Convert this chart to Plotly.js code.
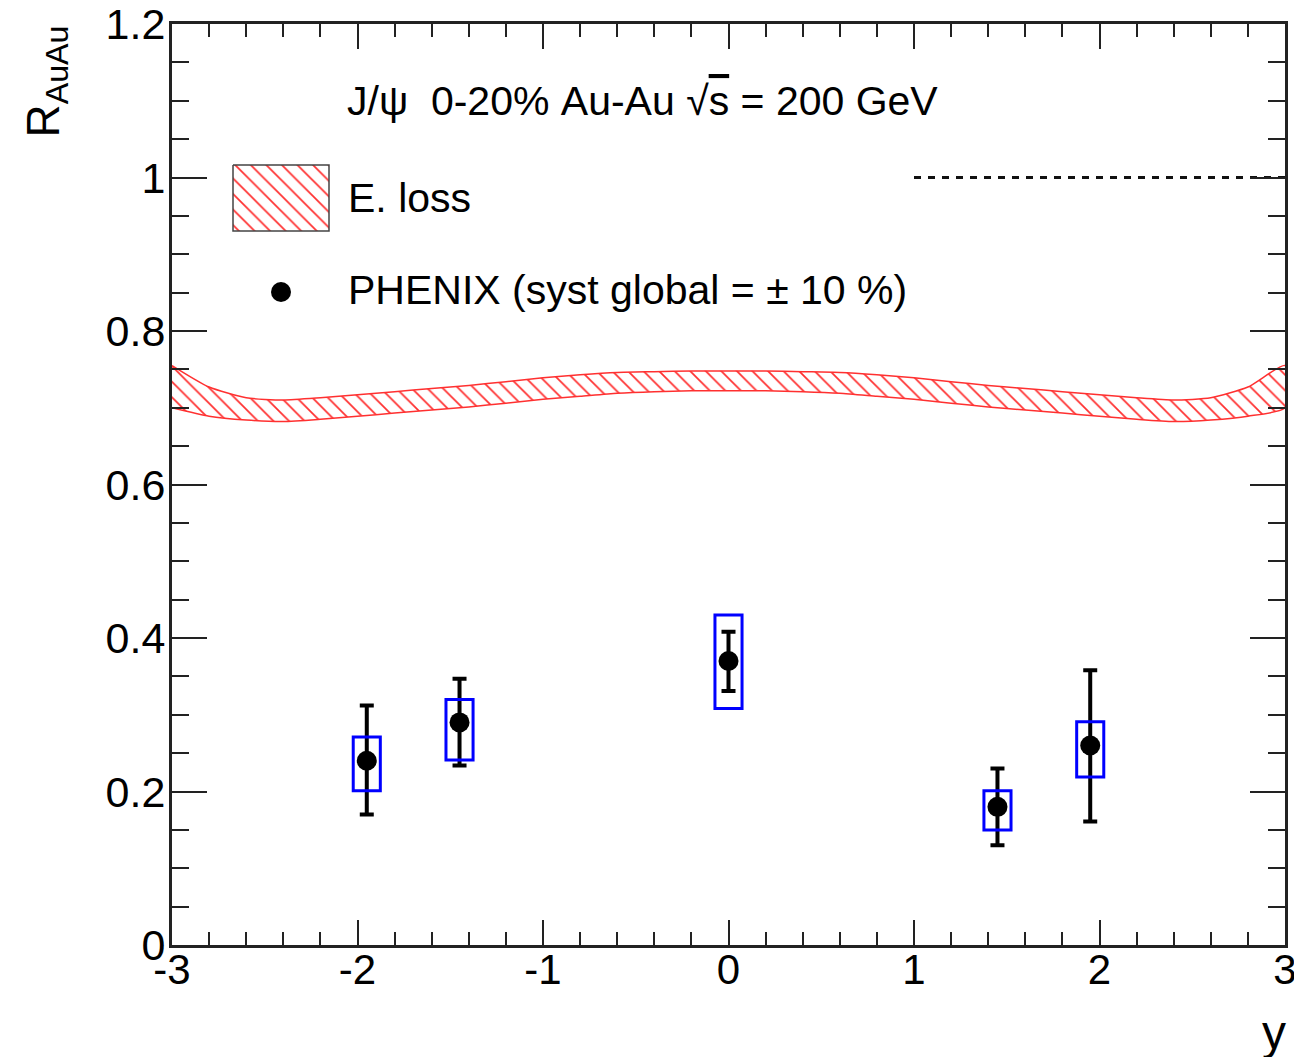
<!DOCTYPE html>
<html>
<head>
<meta charset="utf-8">
<script src="https://cdn.plot.ly/plotly-3.0.1.min.js"></script>
<style>
html,body{margin:0;padding:0;background:#fff;}
#chart{width:1294px;height:1057px;}
</style>
</head>
<body>
<div id="chart"></div>
<script>
// ---- Data ----
// E. loss band (rapidity y, upper and lower edge of R_AuAu)
const bandY = [-3.0, -2.8, -2.6, -2.4, -2.2, -2.0, -1.8, -1.6, -1.4, -1.2, -1.0, -0.8, -0.6, -0.4, -0.2, 0.0,
               0.2, 0.4, 0.6, 0.8, 1.0, 1.2, 1.4, 1.6, 1.8, 2.0, 2.2, 2.4, 2.6, 2.8, 3.0];
const bandUpper = [0.755, 0.727, 0.713, 0.710, 0.713, 0.717, 0.721, 0.725, 0.729, 0.734, 0.739, 0.743, 0.746, 0.747, 0.748, 0.748,
                   0.748, 0.747, 0.746, 0.743, 0.739, 0.734, 0.729, 0.725, 0.721, 0.717, 0.713, 0.710, 0.713, 0.727, 0.755];
const bandLower = [0.700, 0.689, 0.684, 0.682, 0.685, 0.689, 0.693, 0.697, 0.701, 0.706, 0.711, 0.715, 0.719, 0.721, 0.722, 0.722,
                   0.722, 0.721, 0.719, 0.715, 0.711, 0.706, 0.701, 0.697, 0.693, 0.689, 0.685, 0.682, 0.684, 0.689, 0.700];

// PHENIX points
const phenixY   = [-1.95, -1.45, 0.0, 1.45, 1.95];
const phenixRaa = [0.24, 0.29, 0.37, 0.18, 0.26];
const statHigh  = [0.312, 0.347, 0.408, 0.230, 0.358];
const statLow   = [0.170, 0.234, 0.331, 0.130, 0.161];
const systHigh  = [0.271, 0.320, 0.430, 0.201, 0.291];
const systLow   = [0.201, 0.241, 0.308, 0.150, 0.219];

// reference line R=1
const refLineY = [1.0, 3.0];
const refLineR = [1.0, 1.0];

// tick labels
const xTickVals = [-3, -2, -1, 0, 1, 2, 3];
const xTickText = ['-3', '-2', '-1', '0', '1', '2', '3'];

// ---- Layout helpers (pixel geometry) ----
const W = 1294, H = 1057;
const L = 172, R = 1285, T = 24, B = 945;
const px = p => (p - L) / (R - L);
const py = p => (B - p) / (B - T);
const FONT = 'Liberation Sans, Arial, Helvetica, sans-serif';
const boxHalfWidth = 0.073;

const traces = [];

// band polygon
traces.push({
  x: bandY.concat(bandY.slice().reverse()),
  y: bandUpper.concat(bandLower.slice().reverse()),
  type: 'scatter', mode: 'lines',
  fill: 'toself',
  fillcolor: 'rgba(0,0,0,0)',
  fillpattern: {shape: '\\', fgcolor: '#ff3030', bgcolor: 'rgba(255,255,255,0)', size: 11, solidity: 0.16},
  line: {color: '#ff3030', width: 1.5, shape: 'spline', smoothing: 0.6},
  hoverinfo: 'skip', showlegend: false
});

// dashed reference line
traces.push({
  x: refLineY, y: refLineR, type: 'scatter', mode: 'lines',
  line: {color: '#111', width: 3, dash: '7px,7px'},
  hoverinfo: 'skip', showlegend: false
});

// PHENIX points with stat errors
traces.push({
  x: phenixY, y: phenixRaa, type: 'scatter', mode: 'markers',
  marker: {color: '#000', size: 20},
  error_y: {
    type: 'data', symmetric: false,
    array: statHigh.map((v, i) => v - phenixRaa[i]),
    arrayminus: phenixRaa.map((v, i) => v - statLow[i]),
    color: '#000', thickness: 4, width: 7
  },
  showlegend: false
});

// legend swatch & marker on an overlay pixel axis
traces.push({
  x: [233, 329, 329, 233, 233], y: [165, 165, 231, 231, 165],
  xaxis: 'x2', yaxis: 'y2', type: 'scatter', mode: 'lines',
  fill: 'toself', fillcolor: 'rgba(0,0,0,0)',
  fillpattern: {shape: '\\', fgcolor: '#ff3030', bgcolor: 'rgba(255,255,255,0)', size: 11, solidity: 0.16},
  line: {color: '#444', width: 1.5},
  hoverinfo: 'skip', showlegend: false
});
traces.push({
  x: [281], y: [292], xaxis: 'x2', yaxis: 'y2', type: 'scatter', mode: 'markers',
  marker: {color: '#000', size: 20}, hoverinfo: 'skip', showlegend: false
});

// systematic boxes as shapes
const shapes = phenixY.map((x, i) => ({
  type: 'rect', xref: 'x', yref: 'y',
  x0: x - boxHalfWidth, x1: x + boxHalfWidth,
  y0: systLow[i], y1: systHigh[i],
  line: {color: '#0000ff', width: 3}, fillcolor: 'rgba(0,0,0,0)', layer: 'above'
}));

const annotations = [
  {xref: 'paper', yref: 'paper', x: px(345), y: py(101), xanchor: 'left', yanchor: 'middle',
   text: 'J/ψ  0-20% Au-Au √<span style="text-decoration:overline">s</span> = 200 GeV', showarrow: false,
   font: {family: FONT, size: 41, color: '#000'}},
  {xref: 'paper', yref: 'paper', x: px(346), y: py(198), xanchor: 'left', yanchor: 'middle',
   text: 'E. loss', showarrow: false, font: {family: FONT, size: 41, color: '#000'}},
  {xref: 'paper', yref: 'paper', x: px(346), y: py(290), xanchor: 'left', yanchor: 'middle',
   text: 'PHENIX (syst global = ± 10 %)', showarrow: false, font: {family: FONT, size: 41, color: '#000'}},
  {xref: 'paper', yref: 'paper', x: px(14), y: py(24), xanchor: 'left', yanchor: 'top',
   textangle: -90, text: 'R<sub>AuAu</sub>', showarrow: false, font: {family: FONT, size: 46, color: '#000'}},
  {xref: 'paper', yref: 'paper', x: px(1288), y: py(1061), xanchor: 'right', yanchor: 'bottom',
   text: 'y', showarrow: false, font: {family: FONT, size: 48, color: '#000'}}
];

const layout = {
  width: W, height: H,
  margin: {l: L, r: W - R, t: T, b: H - B, pad: 0},
  paper_bgcolor: '#fff', plot_bgcolor: '#fff',
  showlegend: false,
  font: {family: FONT, size: 40, color: '#000'},
  xaxis: {
    range: [-3, 3], tickvals: xTickVals, ticktext: xTickText,
    ticks: 'inside', ticklen: 25, tickwidth: 2, tickcolor: '#222',
    minor: {dtick: 0.2, ticks: 'inside', ticklen: 13, tickwidth: 2, tickcolor: '#222', showgrid: false},
    showline: true, linewidth: 3, linecolor: '#222', mirror: 'allticks',
    showgrid: false, zeroline: false, tickfont: {family: FONT, size: 42}, fixedrange: true,
    ticklabeloverflow: 'allow', ticklabelstandoff: -14
  },
  yaxis: {
    range: [0, 1.2], dtick: 0.2, tick0: 0,
    ticks: 'inside', ticklen: 35, tickwidth: 2, tickcolor: '#222',
    minor: {dtick: 0.05, ticks: 'inside', ticklen: 17, tickwidth: 2, tickcolor: '#222', showgrid: false},
    showline: true, linewidth: 3, linecolor: '#222', mirror: 'allticks',
    showgrid: false, zeroline: false, tickfont: {family: FONT, size: 43}, fixedrange: true,
    ticklabeloverflow: 'allow', ticklabelstandoff: -5
  },
  xaxis2: {overlaying: 'x', range: [L, R], visible: false, fixedrange: true},
  yaxis2: {overlaying: 'y', range: [B, T], visible: false, fixedrange: true},
  shapes: shapes,
  annotations: annotations
};

Plotly.newPlot('chart', traces, layout, {staticPlot: true, displayModeBar: false});
</script>
</body>
</html>
